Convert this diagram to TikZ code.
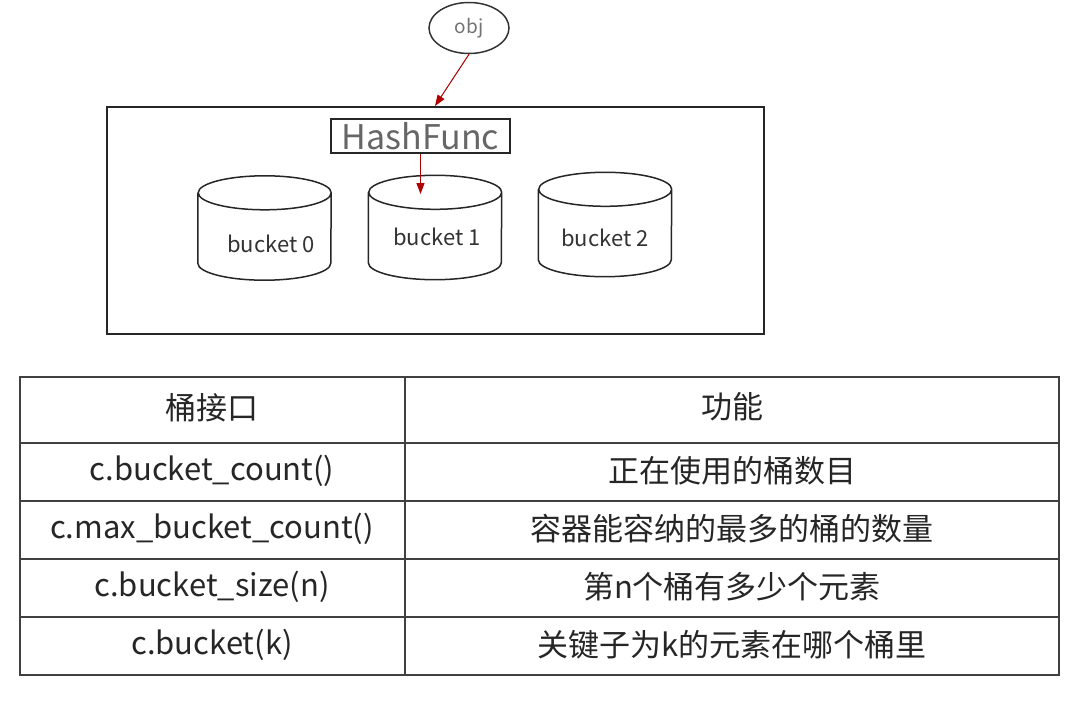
\documentclass[tikz,border=0pt]{standalone}
\usepackage{fontspec}
\setmainfont{Noto Sans CJK SC}
\usetikzlibrary{shapes.geometric,arrows.meta}
\begin{document}
\begin{tikzpicture}[x=1pt, y=-1pt]
\tikzstyle{seau} = [draw=black!85, line width=1.5pt]
\tikzstyle{corps} = [minimum width=133pt, minimum height=70pt, inner sep=0pt]
\tikzstyle{etiquette} = [font=\fontsize{22}{26}\selectfont, text=black!80]
\tikzstyle{fleche} = [-{Triangle[length=11pt,width=8pt]}, draw=red!70!black, line width=1pt, fill=red!70!black]
\tikzstyle{cellule} = [anchor=center, font=\fontsize{31}{36}\selectfont, text=black!85]
\tikzstyle{trait} = [draw=black!75, line width=2pt]
\useasboundingbox (0,0) rectangle (1066,701);
\fill[white] (0,0) rectangle (1066,701);
% la table de hachage
\node[ellipse, draw=black!80, line width=1.5pt, minimum width=80pt, minimum height=51pt, text=black!55, font=\fontsize{19}{22}\selectfont] (obj) at (469,28) {obj};
\node[draw=black!85, line width=2pt, minimum width=657pt, minimum height=227pt] (cadre) at (435.5,220.5) {};
\node[draw=black!85, line width=2pt, minimum width=179pt, minimum height=34pt, inner sep=0pt, text=black!60, font=\fontsize{34}{38}\selectfont] (hash) at (420.5,136) {HashFunc};
\node[corps] (B0) at (264.5,228) {};
\node[corps] (B1) at (435,227.5) {};
\node[corps] (B2) at (605,224.5) {};
\draw[seau] (B0.north west) -- (B0.south west) arc[start angle=180, end angle=360, x radius=66.5pt, y radius=17pt] -- (B0.north east) arc[start angle=0, end angle=360, x radius=66.5pt, y radius=17pt];
\draw[seau] (B1.north west) -- (B1.south west) arc[start angle=180, end angle=360, x radius=66.5pt, y radius=17pt] -- (B1.north east) arc[start angle=0, end angle=360, x radius=66.5pt, y radius=17pt];
\draw[seau] (B2.north west) -- (B2.south west) arc[start angle=180, end angle=360, x radius=66.5pt, y radius=17pt] -- (B2.north east) arc[start angle=0, end angle=360, x radius=66.5pt, y radius=17pt];
\node[etiquette] (L0) at (271,244) {bucket 0};
\node[etiquette] (L1) at (437,237) {bucket 1};
\node[etiquette] (L2) at (605,238) {bucket 2};
\coordinate (entree) at (435,106);
\coordinate (sortie) at (420.5,194);
\draw[fleche] (obj.south) -- (entree);
\draw[fleche] (hash.south) -- (sortie);
% les fonctions
\draw[trait] (20,377) rectangle (1059,675);
\draw[trait] (405,377) -- (405,675);
\draw[trait] (20,443) -- (1059,443);
\draw[trait] (20,501) -- (1059,501);
\draw[trait] (20,559) -- (1059,559);
\draw[trait] (20,617) -- (1059,617);
\node[cellule] (I0) at (212,408) {桶接口};
\node[cellule] (F0) at (732,407) {功能};
\node[cellule] (I1) at (212,471) {c.bucket\_count()};
\node[cellule] (F1) at (732,471) {正在使用的桶数目};
\node[cellule] (I2) at (212,529) {c.max\_bucket\_count()};
\node[cellule] (F2) at (732,529) {容器能容纳的最多的桶的数量};
\node[cellule] (I3) at (212,587) {c.bucket\_size(n)};
\node[cellule] (F3) at (732,587) {第n个桶有多少个元素};
\node[cellule] (I4) at (212,645) {c.bucket(k)};
\node[cellule] (F4) at (732,645) {关键子为k的元素在哪个桶里};
\end{tikzpicture}
\end{document}
